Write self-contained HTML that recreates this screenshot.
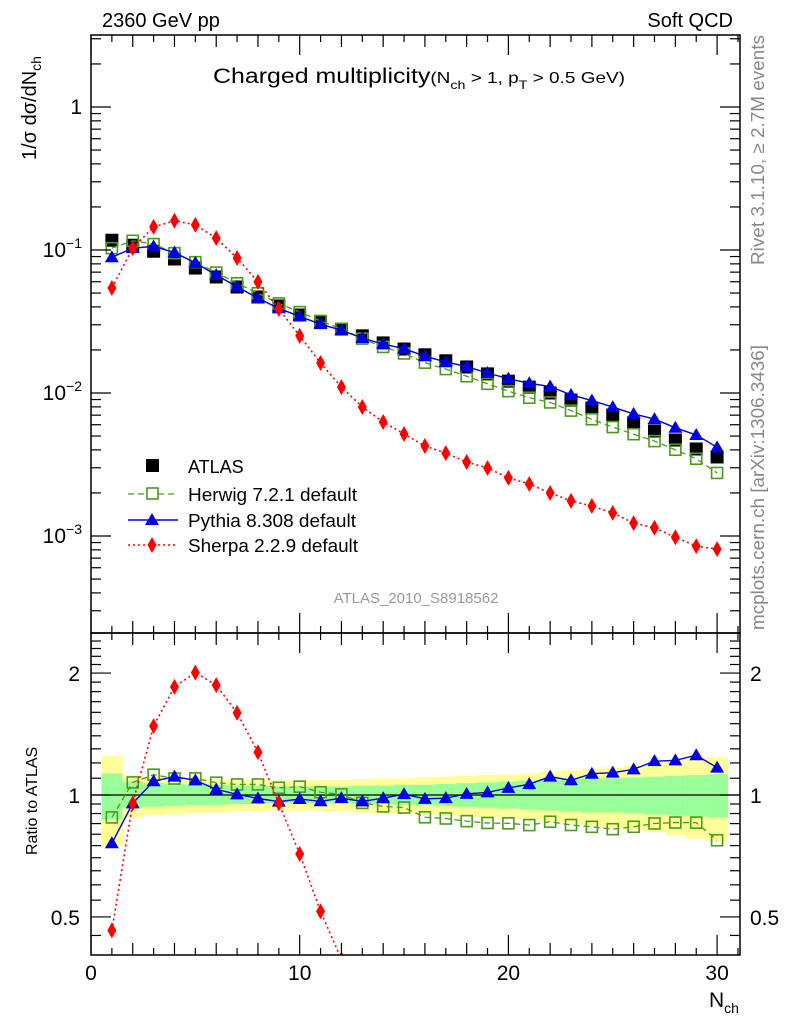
<!DOCTYPE html>
<html><head><meta charset="utf-8"><style>
html,body{margin:0;padding:0;background:#fff;overflow:hidden;width:786px;height:1024px;}
svg{display:block;font-family:"Liberation Sans",sans-serif;}
</style></head><body>
<svg id="c" width="786" height="1024" viewBox="0 0 786 1024"></svg>
<script>
const nch=[1,2,3,4,5,6,7,8,9,10,11,12,13,14,15,16,17,18,19,20,21,22,23,24,25,26,27,28,29,30];
const atlas=[0.117,0.108,0.098,0.0865,0.0748,0.0648,0.0551,0.0469,0.0406,0.0351,0.0314,0.0280,0.0251,0.0224,0.0203,0.0185,0.0168,0.0152,0.0136,0.0121,0.0110,0.0100,0.00893,0.00785,0.00702,0.00617,0.00542,0.00469,0.00406,0.00357];
const herwig=[0.103,0.116,0.110,0.095,0.0822,0.0695,0.0585,0.0498,0.0423,0.0368,0.0319,0.0281,0.0240,0.0210,0.0189,0.0163,0.0147,0.0131,0.0116,0.0103,0.00927,0.00859,0.00753,0.00655,0.00578,0.00515,0.00461,0.00401,0.00347,0.00276];
const pythia=[0.0889,0.103,0.106,0.096,0.0813,0.0669,0.0553,0.0460,0.0391,0.0343,0.0303,0.0275,0.0242,0.0220,0.0204,0.0181,0.0165,0.0153,0.0138,0.0126,0.0117,0.0111,0.00971,0.00886,0.00797,0.00714,0.00657,0.00571,0.00509,0.00417];
const sherpa=[0.0542,0.103,0.145,0.160,0.150,0.121,0.0879,0.0598,0.0387,0.0251,0.0162,0.0110,0.00798,0.00627,0.00517,0.00426,0.00380,0.00329,0.00299,0.00255,0.00231,0.00200,0.00176,0.00162,0.00145,0.00123,0.00114,0.00098,0.00085,0.00081];
const yelHi=[1.25,1.12,1.11,1.105,1.10,1.095,1.09,1.09,1.085,1.085,1.09,1.09,1.095,1.10,1.10,1.105,1.11,1.115,1.12,1.125,1.13,1.14,1.15,1.16,1.17,1.18,1.19,1.21,1.22,1.24];
const yelLo=[0.75,0.88,0.89,0.895,0.90,0.905,0.91,0.91,0.915,0.915,0.91,0.91,0.905,0.90,0.90,0.895,0.89,0.885,0.88,0.875,0.87,0.86,0.85,0.84,0.83,0.82,0.81,0.795,0.78,0.765];
const grnHi=[1.13,1.08,1.07,1.065,1.06,1.06,1.055,1.055,1.05,1.05,1.05,1.05,1.055,1.055,1.06,1.06,1.065,1.07,1.075,1.08,1.085,1.09,1.095,1.10,1.10,1.105,1.11,1.115,1.12,1.125];
const grnLo=[0.87,0.93,0.935,0.94,0.945,0.945,0.95,0.95,0.955,0.955,0.955,0.955,0.95,0.95,0.945,0.945,0.94,0.935,0.93,0.925,0.92,0.915,0.91,0.905,0.905,0.90,0.895,0.89,0.885,0.88];
const xTicks=[0,10,20,30];
const yMainTicks=[1,0.1,0.01,0.001];
const yRatioTicks=[0.5,1,2];
const yRatioLabels=["0.5","1","2"];

const NS="http://www.w3.org/2000/svg";
const svg=document.getElementById('c');
const L=91,R=740,T=35,MB=633,B=955;
const X=v=>91+(v)*20.87;
const YM=v=>107-143*Math.log10(v);
const YR=v=>795-405*Math.log10(v);
function el(tag,attrs,parent){const e=document.createElementNS(NS,tag);for(const k in attrs)e.setAttribute(k,attrs[k]);(parent||svg).appendChild(e);return e;}
function txt(s,attrs,parent){const e=el('text',attrs,parent);e.textContent=s;return e;}

const bands=el('g',{});


nch.forEach((n,i)=>{
  const x0=X(n-0.5),x1=X(n+0.5);
  const y=el('rect',{x:x0,y:YR(yelHi[i]),width:x1-x0+0.5,height:YR(yelLo[i])-YR(yelHi[i]),fill:'#ffff99'},bands);
  
  
  const g=el('rect',{x:x0,y:YR(grnHi[i]),width:x1-x0+0.5,height:YR(grnLo[i])-YR(grnHi[i]),fill:'#99ff99'},bands);
  
  
});
const one=el('line',{x1:L,x2:R,y1:YR(1),y2:YR(1),stroke:'#000','stroke-width':1.2});



const defs=el('defs',{});
const c1=el('clipPath',{id:'cm'},defs);el('rect',{x:L,y:T,width:R-L,height:MB-T},c1);
const c2=el('clipPath',{id:'cr'},defs);el('rect',{x:L,y:MB,width:R-L,height:B-MB},c2);

function marker(g,type,x,y,name){
  let m;
  if(type==='sq') m=el('rect',{x:x-6.5,y:y-6.5,width:13,height:13,fill:'#000'},g);
  else if(type==='osq') m=el('rect',{x:x-5.5,y:y-5.5,width:11,height:11,fill:'none',stroke:'#4a9a1e','stroke-width':1.6},g);
  else if(type==='tri') m=el('polygon',{points:`${x},${y-7} ${x-7},${y+5} ${x+7},${y+5}`,fill:'#0000e6'},g);
  else m=el('polygon',{points:`${x},${y-8} ${x-4.5},${y} ${x},${y+8} ${x+4.5},${y}`,fill:'#ff0000'},g);
  
  
}
const styles={herwig:{c:'#4a9a1e',d:'6,4',m:'osq',w:1.3},pythia:{c:'#0000e6',d:'',m:'tri',w:1.4},sherpa:{c:'#ff0000',d:'2,3',m:'dia',w:1.6}};
function series(vals,key,Y,clip,ratio){
  const s=styles[key];
  const g=el('g',{'clip-path':`url(#${clip})`});
  
  
  const pts=nch.map((n,i)=>[X(n),Y(ratio?vals[i]/atlas[i]:vals[i])]);
  const p=el('polyline',{points:pts.map(p=>p.join(',')).join(' '),fill:'none',stroke:s.c,'stroke-width':s.w,'stroke-dasharray':s.d},g);
  
  
  pts.forEach(q=>marker(g,s.m,q[0],q[1],key+'-point'));
}
const ag=el('g',{'clip-path':'url(#cm)'});


nch.forEach((n,i)=>marker(ag,'sq',X(n),YM(atlas[i]),'atlas-point'));
series(herwig,'herwig',YM,'cm',false);
series(pythia,'pythia',YM,'cm',false);
series(sherpa,'sherpa',YM,'cm',false);
series(herwig,'herwig',YR,'cr',true);
series(pythia,'pythia',YR,'cr',true);
series(sherpa,'sherpa',YR,'cr',true);

[[T,MB,'main-plot-frame'],[MB,B,'ratio-plot-frame']].forEach(f=>{
  const r=el('rect',{x:L,y:f[0],width:R-L,height:f[1]-f[0],fill:'none',stroke:'#000','stroke-width':1.5});
  
  
});
const tk=el('g',{stroke:'#000','stroke-width':1.2});


for(let n=0;n<=31;n++){
  const len=n%10===0?20:(n%2===0?12:7);
  const x=X(n);
  el('line',{x1:x,x2:x,y1:B,y2:B-len},tk);
  el('line',{x1:x,x2:x,y1:MB,y2:MB-len},tk);
  el('line',{x1:x,x2:x,y1:MB,y2:MB+len},tk);
  el('line',{x1:x,x2:x,y1:T,y2:T+len},tk);
}
for(let e=-4;e<=0;e++)for(let k=1;k<=9;k++){
  const v=k*Math.pow(10,e);const y=YM(v);if(y<T||y>MB)continue;
  const len=k===1?20:10;
  el('line',{x1:L,x2:L+len,y1:y,y2:y},tk);el('line',{x1:R,x2:R-len,y1:y,y2:y},tk);
}
for(let v=0.4;v<=2.5;v+=(v<0.999?0.05:0.1)){
  const y=YR(v);if(y<MB||y>B)continue;
  const major=yRatioTicks.some(t=>Math.abs(t-v)<1e-6);
  const len=major?20:10;
  el('line',{x1:L,x2:L+len,y1:y,y2:y},tk);el('line',{x1:R,x2:R-len,y1:y,y2:y},tk);
}
xTicks.forEach(v=>{const t=txt(String(v),{x:X(v),y:980,'font-size':21,'text-anchor':'middle'});

});
yMainTicks.forEach((v,i)=>{
  const t=el('text',{x:82,y:YM(v)+7,'font-size':21,'text-anchor':'end'});
  
  
  if(i===0){t.textContent='1';}
  else{const a=document.createElementNS(NS,'tspan');a.textContent='10';t.appendChild(a);
    const b=document.createElementNS(NS,'tspan');b.setAttribute('dy','-9');b.setAttribute('font-size','14');b.textContent='\u2212'+i;t.appendChild(b);}
});
yRatioTicks.forEach((v,i)=>{
  const a=txt(yRatioLabels[i],{x:80,y:YR(v)+8,'font-size':21,'text-anchor':'end'});
  
  
  const b=txt(yRatioLabels[i],{x:750,y:YR(v)+8,'font-size':21});
  
  
});

svg.insertAdjacentHTML('beforeend',`
<text x="102" y="27" font-size="20">2360 GeV pp</text>
<text x="733" y="27" font-size="20" text-anchor="end">Soft QCD</text>
<text x="213" y="83" font-size="21" textLength="412" lengthAdjust="spacingAndGlyphs">Charged multiplicity<tspan font-size="16">(N</tspan><tspan font-size="12" dy="6">ch</tspan><tspan font-size="16" dy="-6"> &gt; 1, p</tspan><tspan font-size="12" dy="6">T</tspan><tspan font-size="16" dy="-6"> &gt; 0.5 GeV)</tspan></text>
<text transform="translate(36,160) rotate(-90)" font-size="20">1/σ dσ/dN<tspan font-size="14" dy="5">ch</tspan></text>
<text transform="translate(37,855) rotate(-90)" font-size="16">Ratio to ATLAS</text>
<text x="709" y="1007" font-size="21">N<tspan font-size="14" dy="6">ch</tspan></text>
<text transform="translate(764,265) rotate(-90)" font-size="18" fill="#888" textLength="230" lengthAdjust="spacingAndGlyphs">Rivet 3.1.10, ≥ 2.7M events</text>
<text transform="translate(764,630) rotate(-90)" font-size="18" fill="#888" textLength="285" lengthAdjust="spacingAndGlyphs">mcplots.cern.ch [arXiv:1306.3436]</text>
<text x="416" y="603" font-size="15" fill="#999" text-anchor="middle">ATLAS_2010_S8918562</text>
<g font-size="18">
 <g><rect x="146" y="459" width="13" height="13" fill="#000"/><text x="188" y="473">ATLAS</text></g>
 <g><line x1="128" x2="178" y1="494" y2="494" stroke="#4a9a1e" stroke-width="1.3" stroke-dasharray="6,4"/><rect x="147" y="488" width="11" height="11" fill="#fff" stroke="#4a9a1e" stroke-width="1.6"/><text x="188" y="501" textLength="169" lengthAdjust="spacingAndGlyphs">Herwig 7.2.1 default</text></g>
 <g><line x1="128" x2="178" y1="520" y2="520" stroke="#0000e6" stroke-width="1.4"/><polygon points="152,513 145,525 159,525" fill="#0000e6"/><text x="188" y="527" textLength="168" lengthAdjust="spacingAndGlyphs">Pythia 8.308 default</text></g>
 <g><line x1="128" x2="178" y1="545" y2="545" stroke="#ff0000" stroke-width="1.6" stroke-dasharray="2,3"/><polygon points="152,537 147.5,545 152,553 156.5,545" fill="#ff0000"/><text x="188" y="552" textLength="170" lengthAdjust="spacingAndGlyphs">Sherpa 2.2.9 default</text></g>
</g>`);
</script>
</body></html>
